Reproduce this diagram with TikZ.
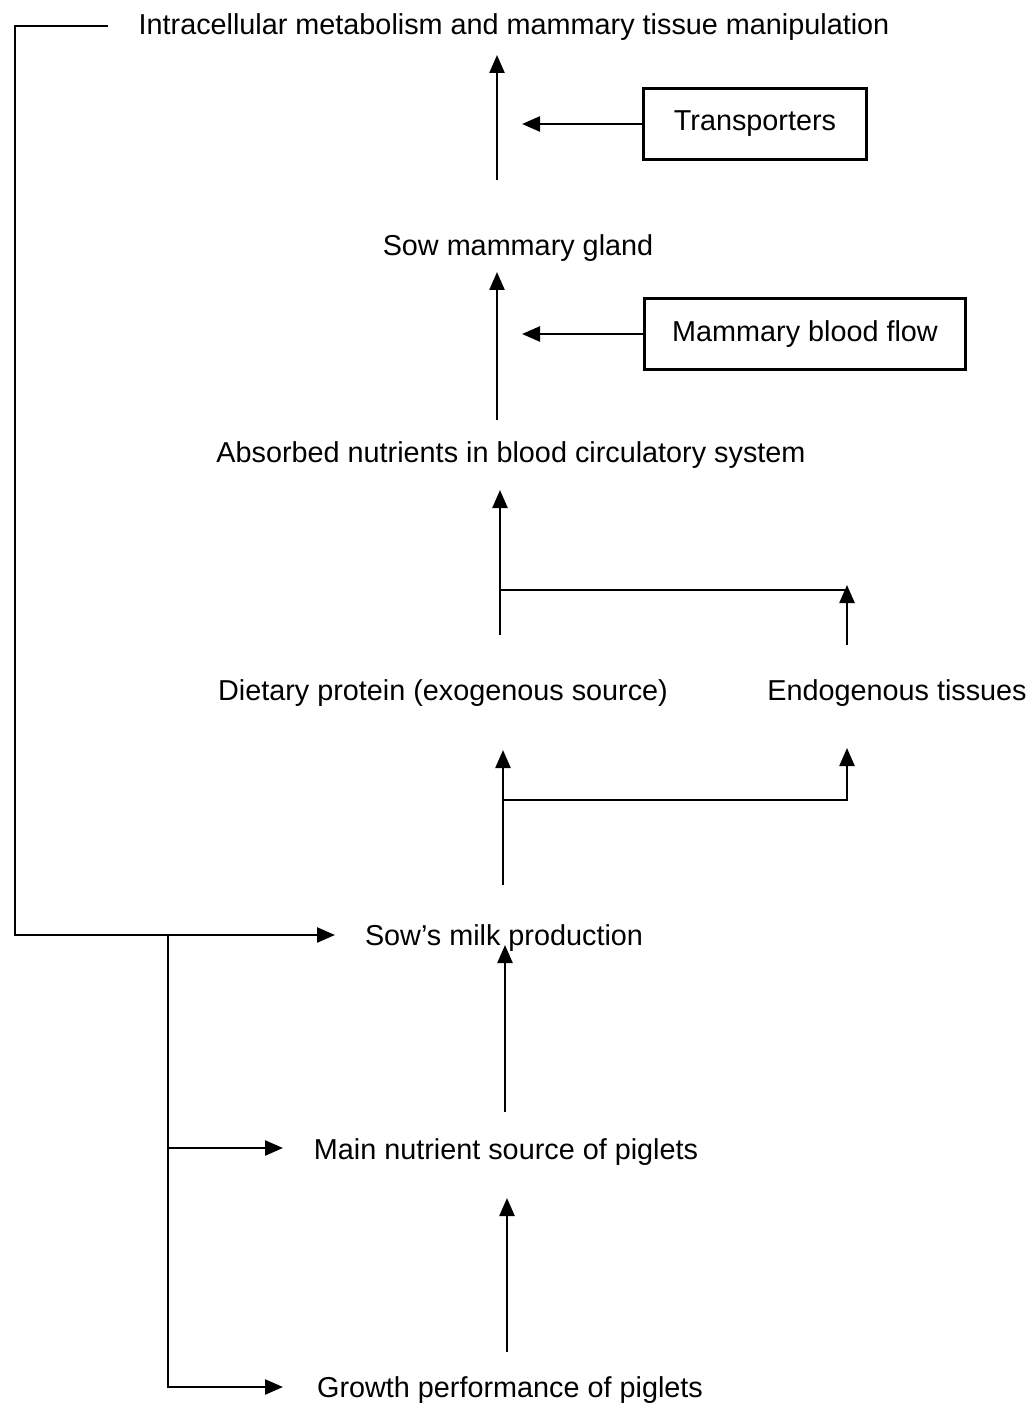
\documentclass[tikz,border=0pt]{standalone}
\usepackage{fontspec}
\setmainfont{Liberation Sans}
\usetikzlibrary{arrows.meta}

\begin{document}
\begin{tikzpicture}[x=1pt, y=-1pt, line width=2.4pt,
    arr/.style={-{Triangle[length=18pt,width=15pt]}},
    txt/.style={font=\fontsize{28.8}{33}\selectfont, inner sep=0pt},
    boxed/.style={draw, txt, minimum height=71pt}]
  \useasboundingbox (0,0) rectangle (1032,1404);

  \node[txt] (intra) at (514,27) {Intracellular metabolism and mammary tissue manipulation};
  \node[boxed, minimum width=223pt] (trans) at (755,124) {Transporters};
  \node[txt] (gland) at (518,248) {Sow mammary gland};
  \node[boxed, minimum width=321pt] (flow) at (805,334) {Mammary blood flow};
  \node[txt] (absorb) at (511,455) {Absorbed nutrients in blood circulatory system};
  \node[txt] (diet) at (443,693) {Dietary protein (exogenous source)};
  \node[txt] (endo) at (897,693) {Endogenous tissues};
  \node[txt] (milk) at (504,938) {Sow’s milk production};
  \node[txt] (source) at (506,1152) {Main nutrient source of piglets};
  \node[txt] (growth) at (510,1390) {Growth performance of piglets};

  % arrow ends
  \coordinate (g1) at (497,180);  \coordinate (g1e) at (497,55);
  \coordinate (a1) at (497,420);  \coordinate (a1e) at (497,272);
  \coordinate (tIn) at (522,124); \coordinate (fIn) at (522,334);
  \coordinate (d1) at (500,635);  \coordinate (d1e) at (500,490);
  \coordinate (dj) at (500,590);  \coordinate (e1) at (847,645);
  \coordinate (e1e) at (847,585);
  \coordinate (m1) at (503,885);  \coordinate (m1e) at (503,750);
  \coordinate (mj) at (503,800);  \coordinate (m2e) at (847,748);
  \coordinate (s1) at (505,1112); \coordinate (s1e) at (505,945);
  \coordinate (p1) at (507,1352); \coordinate (p1e) at (507,1198);
  % feedback ends
  \coordinate (fbOut) at (108,26); \coordinate (loopx) at (15,935);
  \coordinate (mIn) at (335,935);  \coordinate (br) at (168,935);
  \coordinate (sIn) at (283,1148); \coordinate (pIn) at (283,1387);

  \draw[arr] (g1) -- (g1e);
  \draw[arr] (a1) -- (a1e);
  \draw[arr] (trans.west) -- (tIn);
  \draw[arr] (flow.west) -- (fIn);
  \draw[arr] (d1) -- (d1e);
  \draw (dj) -- (dj -| e1);
  \draw[arr] (e1) -- (e1e);
  \draw[arr] (m1) -- (m1e);
  \draw[arr] (mj) -| (m2e);
  \draw[arr] (s1) -- (s1e);
  \draw[arr] (p1) -- (p1e);

  % feedback loop
  \draw[arr] (fbOut) -| (loopx) -- (mIn);
  \draw[arr] (br) |- (sIn);
  \draw[arr] (br) |- (pIn);
\end{tikzpicture}
\end{document}
